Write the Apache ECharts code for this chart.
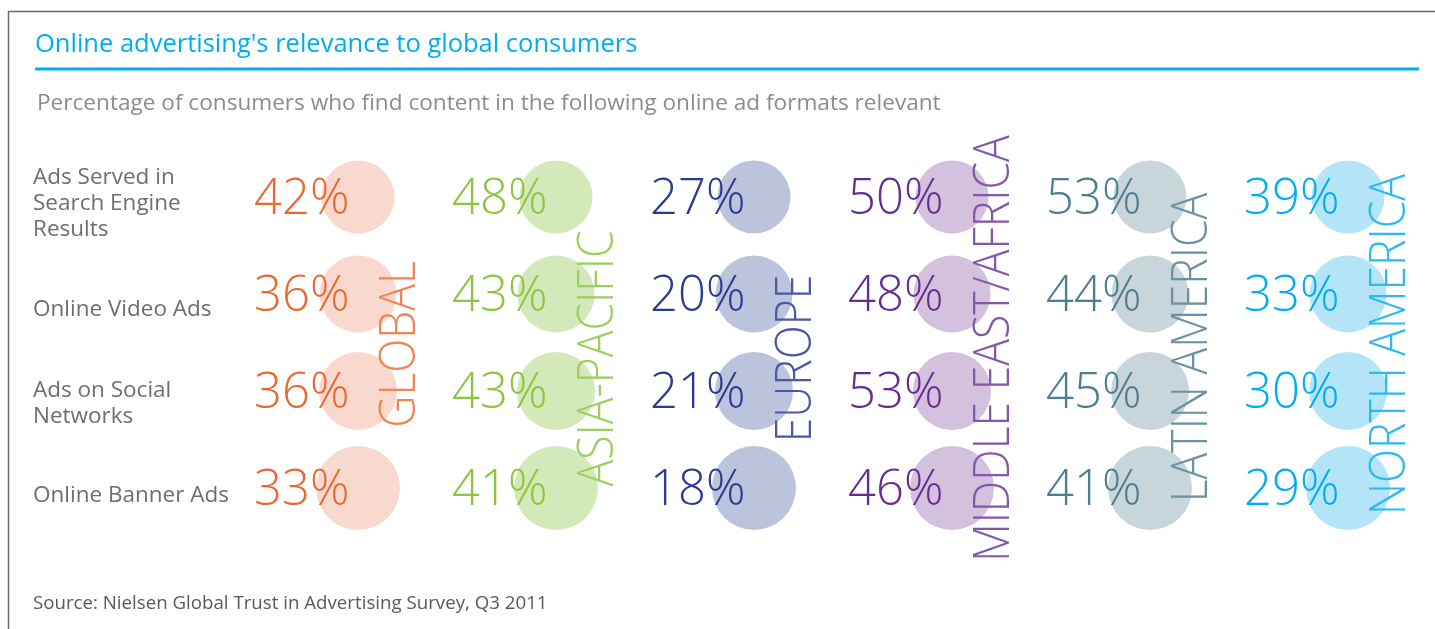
<!DOCTYPE html>
<html>
<head>
<meta charset="utf-8">
<script src="https://cdn.jsdelivr.net/npm/echarts@6/dist/echarts.min.js"></script>
<style>
  html, body { margin: 0; padding: 0; background: #ffffff; }
  #chart { width: 1435px; height: 629px; }
</style>
</head>
<body>
<div id="chart"></div>
<script>
// Regions (columns) and ad formats (rows)
const regions = ['GLOBAL', 'ASIA-PACIFIC', 'EUROPE', 'MIDDLE EAST/AFRICA', 'LATIN AMERICA', 'NORTH AMERICA'];
const adFormats = ['Ads Served in\nSearch Engine\nResults', 'Online Video Ads', 'Ads on Social\nNetworks', 'Online Banner Ads'];

// Share of consumers finding each format relevant, by region (%)
const searchAds = [42, 48, 27, 50, 53, 39];
const videoAds  = [36, 43, 20, 48, 44, 33];
const socialAds = [36, 43, 21, 53, 45, 30];
const bannerAds = [33, 41, 18, 46, 41, 29];

const valuesByFormat = [searchAds, videoAds, socialAds, bannerAds];

// Palette per region: text, bubble fill, column heading
const textColors    = ['#E8692F', '#8CC63F', '#2B3990', '#662D91', '#4C7D90', '#00AEEF'];
const bubbleColors  = ['#F9D9CD', '#D3E9B9', '#BCC3DD', '#D3C1DE', '#C8D5DB', '#B3E4F8'];
const headingColors = ['#EE8556', '#9DCF5F', '#4B58A6', '#8457A8', '#6A92A3', '#2CBAEF'];
const rowSizes = [73, 77, 78, 84];
const rowLabelShift = [8, 17, 14, 9];
const headingShift = [-3, 11, 11, 1, 0, -3];

const sansFont = '"Open Sans", "Noto Sans", sans-serif';

const series = regions.map((region, ci) => ({
  name: region,
  type: 'scatter',
  z: 2,
  symbol: 'circle',
  symbolSize: (val, params) => rowSizes[params.dataIndex],
  itemStyle: { color: bubbleColors[ci], opacity: 1 },
  emphasis: { disabled: true },
  label: {
    show: true,
    position: ['50%', '50%'],
    align: 'left',
    verticalAlign: 'middle',
    offset: [-104, 3],
    fontFamily: sansFont,
    fontWeight: 300,
    fontSize: 49,
    color: textColors[ci],
    formatter: p => p.value[2] + '%'
  },
  data: adFormats.map((fmt, ri) => [region, fmt, valuesByFormat[ri][ci]])
}));

const frameGraphics = [
  { id: 'frameTop', type: 'line', shape: { x1: 8, y1: 11.5, x2: 1435, y2: 11.5 }, style: { stroke: '#6B6B6B', lineWidth: 1.5 } },
  { id: 'frameLeft', type: 'line', shape: { x1: 8.5, y1: 11, x2: 8.5, y2: 629 }, style: { stroke: '#6B6B6B', lineWidth: 1.5 } },
  { id: 'titleRule', type: 'line', shape: { x1: 35, y1: 69, x2: 1419, y2: 69 }, style: { stroke: '#00AEEF', lineWidth: 3 } }
];

const chart = echarts.init(document.getElementById('chart'));
chart.setOption({
  backgroundColor: '#ffffff',
  animation: false,
  title: [
    {
      text: "Online advertising's relevance to global consumers",
      left: 35, top: 32, padding: 0,
      textStyle: { fontFamily: sansFont, fontWeight: 'normal', fontSize: 25.5, color: '#00AEEF' }
    },
    {
      text: 'Percentage of consumers who find content in the following online ad formats relevant',
      left: 37, top: 92, padding: 0,
      textStyle: { fontFamily: sansFont, fontWeight: 'normal', fontSize: 22.6, color: '#8C8C8C' }
    },
    {
      text: 'Source: Nielsen Global Trust in Advertising Survey, Q3 2011',
      left: 33, top: 594, padding: 0,
      textStyle: { fontFamily: sansFont, fontWeight: 'normal', fontSize: 18.7, color: '#58595B' }
    }
  ],
  grid: { left: 358, right: 87, top: 197, bottom: 629 - 488, containLabel: false, outerBoundsMode: 'none' },
  xAxis: {
    type: 'category',
    data: regions,
    boundaryGap: false,
    axisLine: { show: false }, axisTick: { show: false }, axisLabel: { show: false }, splitLine: { show: false }
  },
  yAxis: {
    type: 'category',
    data: adFormats,
    inverse: true,
    boundaryGap: false,
    axisLine: { show: false }, axisTick: { show: false }, axisLabel: { show: false }, splitLine: { show: false }
  },
  graphic: frameGraphics,
  series: series
});

// Row names at the left edge, aligned to each row of bubbles
const rowLabelGraphics = adFormats.map((fmt, ri) => {
  const pt = chart.convertToPixel({ gridIndex: 0 }, [regions[0], fmt]);
  return {
    id: 'rowLabel' + ri,
    type: 'text',
    z: 10,
    x: 33,
    y: pt[1] - 1 + rowLabelShift[ri],
    silent: true,
    style: {
      text: fmt,
      fontFamily: sansFont,
      fontSize: 22.5,
      lineHeight: 26,
      fill: '#6D6E71',
      align: 'left',
      verticalAlign: 'middle',
      textAlign: 'left',
      textVerticalAlign: 'middle'
    }
  };
});

// Column headings: rotated names placed beside each column, centred
// between the second and third rows.
const headingScale = 0.89;
const headingGraphics = regions.map((region, ci) => {
  const upper = chart.convertToPixel({ gridIndex: 0 }, [region, adFormats[1]]);
  const lower = chart.convertToPixel({ gridIndex: 0 }, [region, adFormats[2]]);
  return {
    id: 'heading' + ci,
    type: 'text',
    z: 10,
    x: upper[0] + 43,
    y: (upper[1] + lower[1]) / 2 + 5 + headingShift[ci],
    rotation: Math.PI / 2,
    scaleX: headingScale,
    silent: true,
    style: {
      text: region,
      fontFamily: sansFont,
      fontWeight: 300,
      fontSize: 50,
      fill: headingColors[ci],
      align: 'center',
      verticalAlign: 'middle',
      textAlign: 'center',
      textVerticalAlign: 'middle'
    }
  };
});
chart.setOption({ graphic: frameGraphics.concat(rowLabelGraphics, headingGraphics) });
</script>
</body>
</html>
